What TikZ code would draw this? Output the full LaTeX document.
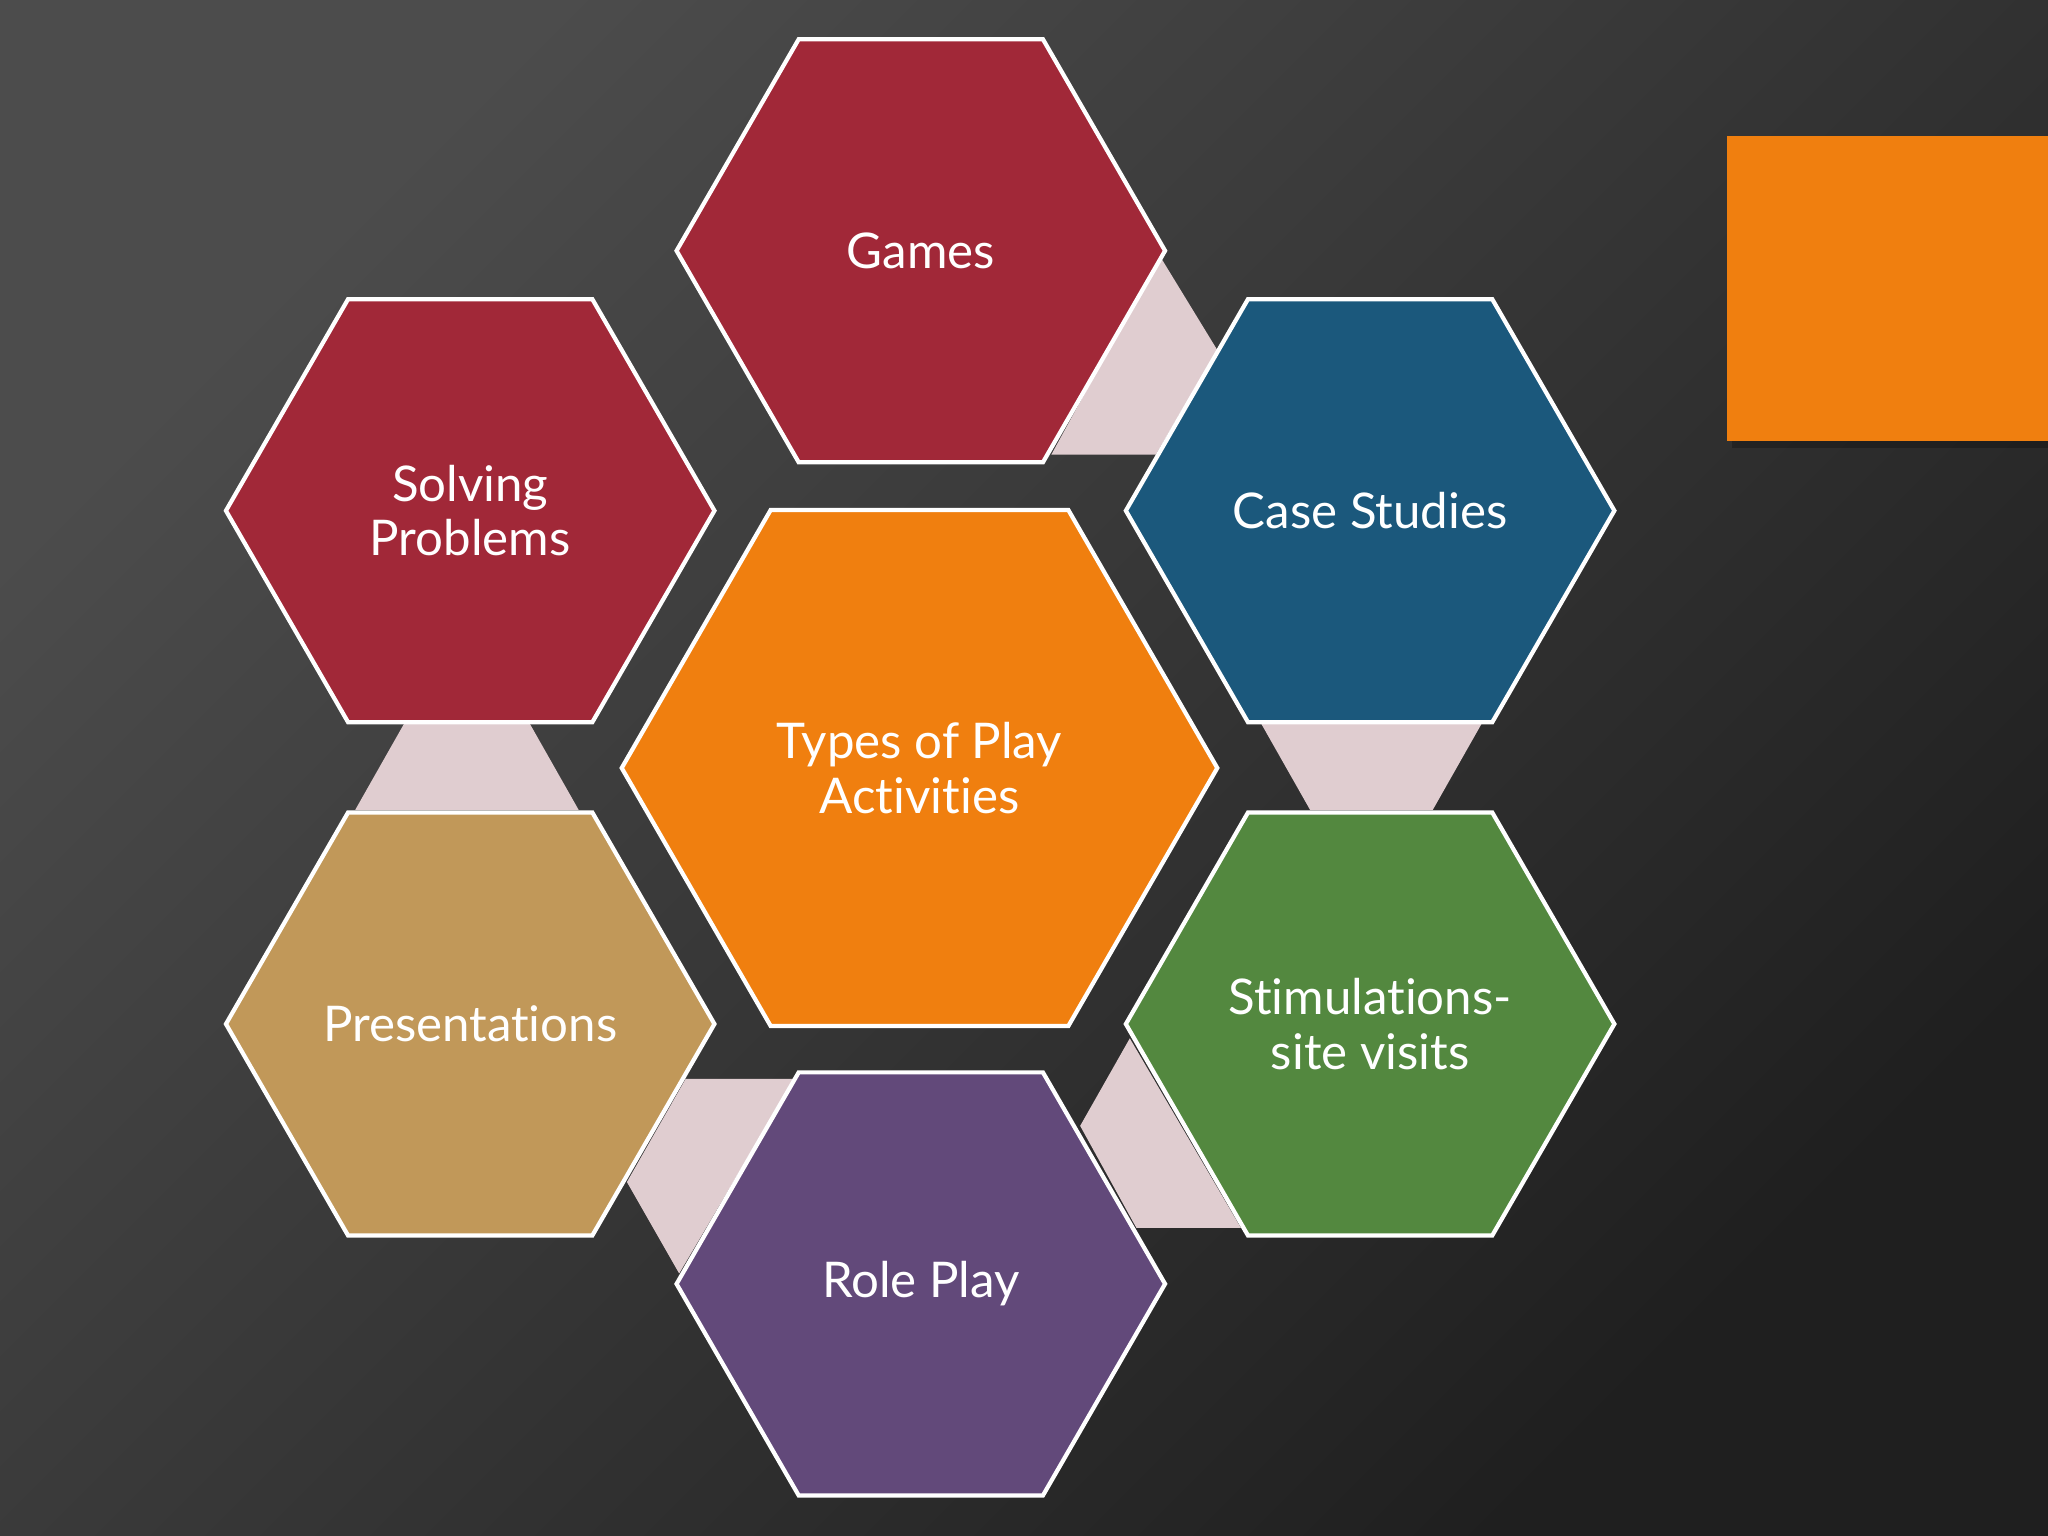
\documentclass[tikz,border=0pt]{standalone}
\usepackage{fontspec}
\setmainfont{Lato}[Ligatures=NoCommon]
\usetikzlibrary{shapes.geometric,shadows}
\definecolor{hred}{HTML}{A12838}
\definecolor{hblue}{HTML}{1B587C}
\definecolor{horange}{HTML}{F07F0F}
\definecolor{htan}{HTML}{C19859}
\definecolor{hgreen}{HTML}{53883F}
\definecolor{hpurple}{HTML}{62497A}
\definecolor{link}{HTML}{E0CDD0}
\tikzset{
  hexbox/.style={regular polygon, regular polygon sides=6, minimum size=4.885cm, inner sep=0pt,
    draw=white, line width=1.2pt, text=white, font=\fontsize{14}{15.5}\selectfont, align=center},
  bighex/.style={hexbox, minimum size=5.956cm},
  linkshape/.style={fill=link}
}
\begin{document}
\begin{tikzpicture}[x=0.013061cm,y=-0.013061cm]
\useasboundingbox (0,0) rectangle (1568,1176);
\shade[top color=black!70, bottom color=black!88, shading angle=45] (0,0) rectangle (1568,1176);
% connectors
\fill[linkshape] (888,196) -- (932,268) -- (885,348) -- (805,348) -- cycle;
\fill[linkshape] (310,553) -- (405,553) -- (443,620) -- (272,620) -- cycle;
\fill[linkshape] (965,553) -- (1135,553) -- (1097,620) -- (1003,620) -- cycle;
\fill[linkshape] (525,826) -- (608,826) -- (520,975) -- (480,905) -- cycle;
\fill[linkshape] (827,862) -- (865,795) -- (950,940) -- (870,940) -- cycle;
% orange block
\fill[black, opacity=0.25] (1326,108) rectangle (1568,343);
\fill[horange] (1322,104) rectangle (1568,338);
% hexagons
\node[hexbox, fill=hred] (games) at (705,192) {Games};
\node[hexbox, fill=hred] (solving) at (360,391) {Solving\\Problems};
\node[hexbox, fill=hblue] (case) at (1049,391) {Case Studies};
\node[bighex, fill=horange] (types) at (704,588) {Types of Play\\Activities};
\node[hexbox, fill=htan] (pres) at (360,784) {Presentations};
\node[hexbox, fill=hgreen] (stim) at (1049,784) {Stimulations-\\site visits};
\node[hexbox, fill=hpurple] (role) at (705,983) {Role Play};
\end{tikzpicture}
\end{document}
